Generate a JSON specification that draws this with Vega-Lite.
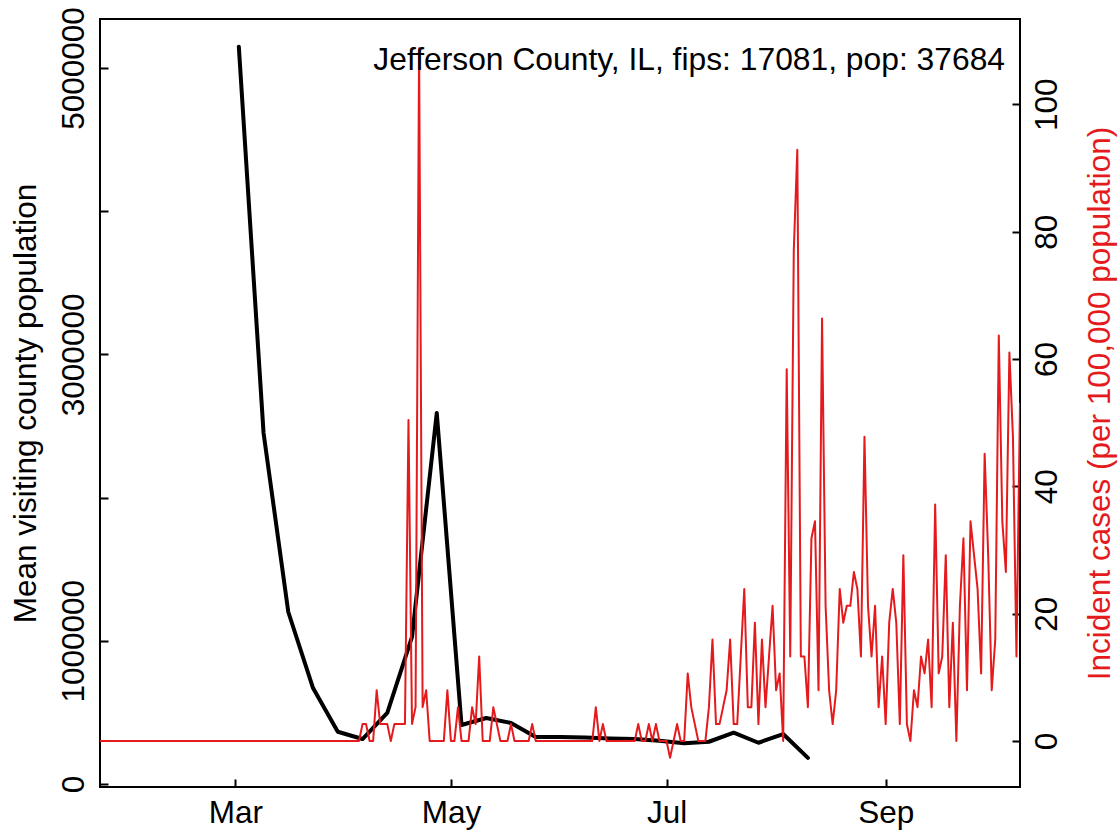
{
  "$schema": "https://vega.github.io/schema/vega-lite/v6.json",
  "width": 920,
  "height": 768,
  "autosize": {"type": "none"},
  "padding": {"left": 100, "top": 19, "right": 99, "bottom": 43},
  "background": "white",
  "title": {"text": "Jefferson County, IL, fips: 17081, pop: 37684", "anchor": "end", "frame": "group", "offset": -49, "baseline": "alphabetic", "dx": -15, "dy": 46, "fontSize": 31.8, "font": "Liberation Sans", "fontWeight": "normal", "color": "black"},
  "datasets": {
    "visitors": [
      {"date": "2020-03-02", "visitors": 5149000},
      {"date": "2020-03-09", "visitors": 2451000},
      {"date": "2020-03-16", "visitors": 1201000},
      {"date": "2020-03-23", "visitors": 670000},
      {"date": "2020-03-30", "visitors": 365000},
      {"date": "2020-04-06", "visitors": 314000},
      {"date": "2020-04-13", "visitors": 496000},
      {"date": "2020-04-20", "visitors": 1027000},
      {"date": "2020-04-27", "visitors": 2591000},
      {"date": "2020-05-04", "visitors": 412000},
      {"date": "2020-05-11", "visitors": 461000},
      {"date": "2020-05-18", "visitors": 426000},
      {"date": "2020-05-25", "visitors": 328000},
      {"date": "2020-06-01", "visitors": 328000},
      {"date": "2020-06-08", "visitors": 325000},
      {"date": "2020-06-15", "visitors": 318000},
      {"date": "2020-06-22", "visitors": 314000},
      {"date": "2020-06-29", "visitors": 302000},
      {"date": "2020-07-06", "visitors": 284000},
      {"date": "2020-07-13", "visitors": 295000},
      {"date": "2020-07-20", "visitors": 358000},
      {"date": "2020-07-27", "visitors": 288000},
      {"date": "2020-08-03", "visitors": 349000},
      {"date": "2020-08-10", "visitors": 182000}
    ],
    "cases": [
      {"date": "2020-01-22", "cases": 0}, {"date": "2020-01-23", "cases": 0}, {"date": "2020-01-24", "cases": 0}, {"date": "2020-01-25", "cases": 0}, {"date": "2020-01-26", "cases": 0}, {"date": "2020-01-27", "cases": 0}, {"date": "2020-01-28", "cases": 0}, {"date": "2020-01-29", "cases": 0}, {"date": "2020-01-30", "cases": 0}, {"date": "2020-01-31", "cases": 0},
      {"date": "2020-02-01", "cases": 0}, {"date": "2020-02-02", "cases": 0}, {"date": "2020-02-03", "cases": 0}, {"date": "2020-02-04", "cases": 0}, {"date": "2020-02-05", "cases": 0}, {"date": "2020-02-06", "cases": 0}, {"date": "2020-02-07", "cases": 0}, {"date": "2020-02-08", "cases": 0}, {"date": "2020-02-09", "cases": 0}, {"date": "2020-02-10", "cases": 0},
      {"date": "2020-02-11", "cases": 0}, {"date": "2020-02-12", "cases": 0}, {"date": "2020-02-13", "cases": 0}, {"date": "2020-02-14", "cases": 0}, {"date": "2020-02-15", "cases": 0}, {"date": "2020-02-16", "cases": 0}, {"date": "2020-02-17", "cases": 0}, {"date": "2020-02-18", "cases": 0}, {"date": "2020-02-19", "cases": 0}, {"date": "2020-02-20", "cases": 0},
      {"date": "2020-02-21", "cases": 0}, {"date": "2020-02-22", "cases": 0}, {"date": "2020-02-23", "cases": 0}, {"date": "2020-02-24", "cases": 0}, {"date": "2020-02-25", "cases": 0}, {"date": "2020-02-26", "cases": 0}, {"date": "2020-02-27", "cases": 0}, {"date": "2020-02-28", "cases": 0}, {"date": "2020-02-29", "cases": 0},
      {"date": "2020-03-01", "cases": 0}, {"date": "2020-03-02", "cases": 0}, {"date": "2020-03-03", "cases": 0}, {"date": "2020-03-04", "cases": 0}, {"date": "2020-03-05", "cases": 0}, {"date": "2020-03-06", "cases": 0}, {"date": "2020-03-07", "cases": 0}, {"date": "2020-03-08", "cases": 0}, {"date": "2020-03-09", "cases": 0}, {"date": "2020-03-10", "cases": 0},
      {"date": "2020-03-11", "cases": 0}, {"date": "2020-03-12", "cases": 0}, {"date": "2020-03-13", "cases": 0}, {"date": "2020-03-14", "cases": 0}, {"date": "2020-03-15", "cases": 0}, {"date": "2020-03-16", "cases": 0}, {"date": "2020-03-17", "cases": 0}, {"date": "2020-03-18", "cases": 0}, {"date": "2020-03-19", "cases": 0}, {"date": "2020-03-20", "cases": 0},
      {"date": "2020-03-21", "cases": 0}, {"date": "2020-03-22", "cases": 0}, {"date": "2020-03-23", "cases": 0}, {"date": "2020-03-24", "cases": 0}, {"date": "2020-03-25", "cases": 0}, {"date": "2020-03-26", "cases": 0}, {"date": "2020-03-27", "cases": 0}, {"date": "2020-03-28", "cases": 0}, {"date": "2020-03-29", "cases": 0}, {"date": "2020-03-30", "cases": 0}, {"date": "2020-03-31", "cases": 0},
      {"date": "2020-04-01", "cases": 0}, {"date": "2020-04-02", "cases": 0}, {"date": "2020-04-03", "cases": 0}, {"date": "2020-04-04", "cases": 0}, {"date": "2020-04-05", "cases": 0},
      {"date": "2020-04-06", "cases": 2.65}, {"date": "2020-04-07", "cases": 2.65}, {"date": "2020-04-08", "cases": 0}, {"date": "2020-04-09", "cases": 0}, {"date": "2020-04-10", "cases": 7.96},
      {"date": "2020-04-11", "cases": 2.65}, {"date": "2020-04-12", "cases": 2.65}, {"date": "2020-04-13", "cases": 2.65}, {"date": "2020-04-14", "cases": 0}, {"date": "2020-04-15", "cases": 2.65},
      {"date": "2020-04-16", "cases": 2.65}, {"date": "2020-04-17", "cases": 2.65}, {"date": "2020-04-18", "cases": 2.65}, {"date": "2020-04-19", "cases": 50.42}, {"date": "2020-04-20", "cases": 2.65},
      {"date": "2020-04-21", "cases": 5.31}, {"date": "2020-04-22", "cases": 108.8}, {"date": "2020-04-23", "cases": 5.31}, {"date": "2020-04-24", "cases": 7.96}, {"date": "2020-04-25", "cases": 0},
      {"date": "2020-04-26", "cases": 0}, {"date": "2020-04-27", "cases": 0}, {"date": "2020-04-28", "cases": 0}, {"date": "2020-04-29", "cases": 0}, {"date": "2020-04-30", "cases": 7.96},
      {"date": "2020-05-01", "cases": 0}, {"date": "2020-05-02", "cases": 0}, {"date": "2020-05-03", "cases": 5.31}, {"date": "2020-05-04", "cases": 0}, {"date": "2020-05-05", "cases": 0},
      {"date": "2020-05-06", "cases": 0}, {"date": "2020-05-07", "cases": 5.31}, {"date": "2020-05-08", "cases": 2.65}, {"date": "2020-05-09", "cases": 13.27}, {"date": "2020-05-10", "cases": 0},
      {"date": "2020-05-11", "cases": 0}, {"date": "2020-05-12", "cases": 0}, {"date": "2020-05-13", "cases": 5.31}, {"date": "2020-05-14", "cases": 2.65}, {"date": "2020-05-15", "cases": 0},
      {"date": "2020-05-16", "cases": 0}, {"date": "2020-05-17", "cases": 0}, {"date": "2020-05-18", "cases": 2.65}, {"date": "2020-05-19", "cases": 0}, {"date": "2020-05-20", "cases": 0},
      {"date": "2020-05-21", "cases": 0}, {"date": "2020-05-22", "cases": 0}, {"date": "2020-05-23", "cases": 0}, {"date": "2020-05-24", "cases": 2.65}, {"date": "2020-05-25", "cases": 0},
      {"date": "2020-05-26", "cases": 0}, {"date": "2020-05-27", "cases": 0}, {"date": "2020-05-28", "cases": 0}, {"date": "2020-05-29", "cases": 0}, {"date": "2020-05-30", "cases": 0}, {"date": "2020-05-31", "cases": 0},
      {"date": "2020-06-01", "cases": 0}, {"date": "2020-06-02", "cases": 0}, {"date": "2020-06-03", "cases": 0}, {"date": "2020-06-04", "cases": 0}, {"date": "2020-06-05", "cases": 0},
      {"date": "2020-06-06", "cases": 0}, {"date": "2020-06-07", "cases": 0}, {"date": "2020-06-08", "cases": 0}, {"date": "2020-06-09", "cases": 0}, {"date": "2020-06-10", "cases": 0},
      {"date": "2020-06-11", "cases": 5.31}, {"date": "2020-06-12", "cases": 0}, {"date": "2020-06-13", "cases": 2.65}, {"date": "2020-06-14", "cases": 0}, {"date": "2020-06-15", "cases": 0},
      {"date": "2020-06-16", "cases": 0}, {"date": "2020-06-17", "cases": 0}, {"date": "2020-06-18", "cases": 0}, {"date": "2020-06-19", "cases": 0}, {"date": "2020-06-20", "cases": 0},
      {"date": "2020-06-21", "cases": 0}, {"date": "2020-06-22", "cases": 0}, {"date": "2020-06-23", "cases": 2.65}, {"date": "2020-06-24", "cases": 0}, {"date": "2020-06-25", "cases": 0},
      {"date": "2020-06-26", "cases": 2.65}, {"date": "2020-06-27", "cases": 0}, {"date": "2020-06-28", "cases": 2.65}, {"date": "2020-06-29", "cases": 0}, {"date": "2020-06-30", "cases": 0},
      {"date": "2020-07-01", "cases": 0}, {"date": "2020-07-02", "cases": -2.65}, {"date": "2020-07-03", "cases": 0}, {"date": "2020-07-04", "cases": 2.65}, {"date": "2020-07-05", "cases": 0},
      {"date": "2020-07-06", "cases": 0}, {"date": "2020-07-07", "cases": 10.61}, {"date": "2020-07-08", "cases": 5.31}, {"date": "2020-07-09", "cases": 2.65}, {"date": "2020-07-10", "cases": 0},
      {"date": "2020-07-11", "cases": 0}, {"date": "2020-07-12", "cases": 0}, {"date": "2020-07-13", "cases": 5.31}, {"date": "2020-07-14", "cases": 15.92}, {"date": "2020-07-15", "cases": 2.65},
      {"date": "2020-07-16", "cases": 2.65}, {"date": "2020-07-17", "cases": 5.31}, {"date": "2020-07-18", "cases": 7.96}, {"date": "2020-07-19", "cases": 15.92}, {"date": "2020-07-20", "cases": 2.65},
      {"date": "2020-07-21", "cases": 2.65}, {"date": "2020-07-22", "cases": 13.27}, {"date": "2020-07-23", "cases": 23.88}, {"date": "2020-07-24", "cases": 5.31}, {"date": "2020-07-25", "cases": 5.31},
      {"date": "2020-07-26", "cases": 18.58}, {"date": "2020-07-27", "cases": 2.65}, {"date": "2020-07-28", "cases": 15.92}, {"date": "2020-07-29", "cases": 5.31}, {"date": "2020-07-30", "cases": 13.27}, {"date": "2020-07-31", "cases": 21.23},
      {"date": "2020-08-01", "cases": 7.96}, {"date": "2020-08-02", "cases": 10.61}, {"date": "2020-08-03", "cases": 0}, {"date": "2020-08-04", "cases": 58.38}, {"date": "2020-08-05", "cases": 13.27},
      {"date": "2020-08-06", "cases": 76.96}, {"date": "2020-08-07", "cases": 92.88}, {"date": "2020-08-08", "cases": 13.27}, {"date": "2020-08-09", "cases": 13.27}, {"date": "2020-08-10", "cases": 5.31},
      {"date": "2020-08-11", "cases": 31.84}, {"date": "2020-08-12", "cases": 34.5}, {"date": "2020-08-13", "cases": 7.96}, {"date": "2020-08-14", "cases": 66.34}, {"date": "2020-08-15", "cases": 21.23},
      {"date": "2020-08-16", "cases": 7.96}, {"date": "2020-08-17", "cases": 2.65}, {"date": "2020-08-18", "cases": 7.96}, {"date": "2020-08-19", "cases": 23.88}, {"date": "2020-08-20", "cases": 18.58},
      {"date": "2020-08-21", "cases": 21.23}, {"date": "2020-08-22", "cases": 21.23}, {"date": "2020-08-23", "cases": 26.54}, {"date": "2020-08-24", "cases": 23.88}, {"date": "2020-08-25", "cases": 13.27},
      {"date": "2020-08-26", "cases": 47.77}, {"date": "2020-08-27", "cases": 21.23}, {"date": "2020-08-28", "cases": 13.27}, {"date": "2020-08-29", "cases": 21.23}, {"date": "2020-08-30", "cases": 5.31}, {"date": "2020-08-31", "cases": 13.27},
      {"date": "2020-09-01", "cases": 2.65}, {"date": "2020-09-02", "cases": 18.58}, {"date": "2020-09-03", "cases": 23.88}, {"date": "2020-09-04", "cases": 18.58}, {"date": "2020-09-05", "cases": 2.65},
      {"date": "2020-09-06", "cases": 29.19}, {"date": "2020-09-07", "cases": 2.65}, {"date": "2020-09-08", "cases": 0}, {"date": "2020-09-09", "cases": 7.96}, {"date": "2020-09-10", "cases": 5.31},
      {"date": "2020-09-11", "cases": 13.27}, {"date": "2020-09-12", "cases": 10.61}, {"date": "2020-09-13", "cases": 15.92}, {"date": "2020-09-14", "cases": 5.31}, {"date": "2020-09-15", "cases": 37.15},
      {"date": "2020-09-16", "cases": 10.61}, {"date": "2020-09-17", "cases": 13.27}, {"date": "2020-09-18", "cases": 29.19}, {"date": "2020-09-19", "cases": 5.31}, {"date": "2020-09-20", "cases": 18.58},
      {"date": "2020-09-21", "cases": 0}, {"date": "2020-09-22", "cases": 21.23}, {"date": "2020-09-23", "cases": 31.84}, {"date": "2020-09-24", "cases": 7.96}, {"date": "2020-09-25", "cases": 34.5},
      {"date": "2020-09-26", "cases": 29.19}, {"date": "2020-09-27", "cases": 23.88}, {"date": "2020-09-28", "cases": 10.61}, {"date": "2020-09-29", "cases": 45.11}, {"date": "2020-09-30", "cases": 29.19},
      {"date": "2020-10-01", "cases": 7.96}, {"date": "2020-10-02", "cases": 15.92}, {"date": "2020-10-03", "cases": 63.69}, {"date": "2020-10-04", "cases": 34.5}, {"date": "2020-10-05", "cases": 26.54},
      {"date": "2020-10-06", "cases": 61.03}, {"date": "2020-10-07", "cases": 47.77}, {"date": "2020-10-08", "cases": 13.27}, {"date": "2020-10-09", "cases": 53.07}
    ]
  },
  "layer": [
    {
      "data": {"name": "visitors"},
      "mark": {"type": "line", "color": "black", "strokeWidth": 4, "strokeJoin": "round", "strokeCap": "round", "clip": true},
      "encoding": {
        "x": {
          "field": "date", "type": "temporal",
          "scale": {"type": "utc", "domain": [{"year": 2020, "month": 1, "date": 22, "hours": 17, "minutes": 30, "utc": true}, {"year": 2020, "month": 10, "date": 9, "utc": true}]},
          "axis": {
            "title": null,
            "values": [{"year": 2020, "month": 3, "date": 1, "utc": true}, {"year": 2020, "month": 5, "date": 1, "utc": true}, {"year": 2020, "month": 7, "date": 1, "utc": true}, {"year": 2020, "month": 9, "date": 1, "utc": true}],
            "labelExpr": "utcFormat(datum.value, '%b')",
            "labelAngle": 0, "labelAlign": "center", "labelBaseline": "alphabetic", "labelPadding": 43
          }
        },
        "y": {
          "field": "visitors", "type": "quantitative",
          "scale": {"domain": [-21000, 5342000], "nice": false, "zero": false},
          "axis": {
            "orient": "left",
            "values": [0, 1000000, 2000000, 3000000, 4000000, 5000000],
            "format": "d",
            "labelExpr": "(datum.value == 2000000 || datum.value == 4000000) ? '' : datum.label",
            "labelOverlap": false,
            "labelAngle": 270, "labelAlign": "center", "labelBaseline": "alphabetic", "labelPadding": 25,
            "title": "Mean visiting county population",
            "titleAngle": 270, "titleX": -65, "titleY": 384, "titleAlign": "center", "titleBaseline": "alphabetic", "titleColor": "black"
          }
        }
      }
    },
    {
      "data": {"name": "cases"},
      "mark": {"type": "line", "color": "#e41a1c", "strokeWidth": 2, "strokeJoin": "round", "clip": true},
      "encoding": {
        "x": {"field": "date", "type": "temporal"},
        "y": {
          "field": "cases", "type": "quantitative",
          "scale": {"domain": [-7.23, 113.4], "nice": false, "zero": false},
          "axis": {
            "orient": "right",
            "values": [0, 20, 40, 60, 80, 100],
            "labelOverlap": false,
            "labelAngle": 270, "labelAlign": "center", "labelBaseline": "alphabetic", "labelPadding": 44,
            "title": "Incident cases (per 100,000 population)",
            "titleAngle": 270, "titleX": 89, "titleY": 384, "titleAlign": "center", "titleBaseline": "alphabetic", "titleColor": "#e41a1c"
          }
        }
      }
    }
  ],
  "resolve": {"scale": {"y": "independent"}, "axis": {"y": "independent"}},
  "config": {
    "view": {"stroke": "black", "strokeWidth": 2},
    "axis": {
      "grid": false, "domain": false,
      "tickColor": "black", "tickWidth": 2, "tickSize": -8,
      "labelFont": "Liberation Sans", "labelFontSize": 31.5, "labelColor": "black",
      "titleFont": "Liberation Sans", "titleFontSize": 31.5, "titleFontWeight": "normal"
    }
  }
}
